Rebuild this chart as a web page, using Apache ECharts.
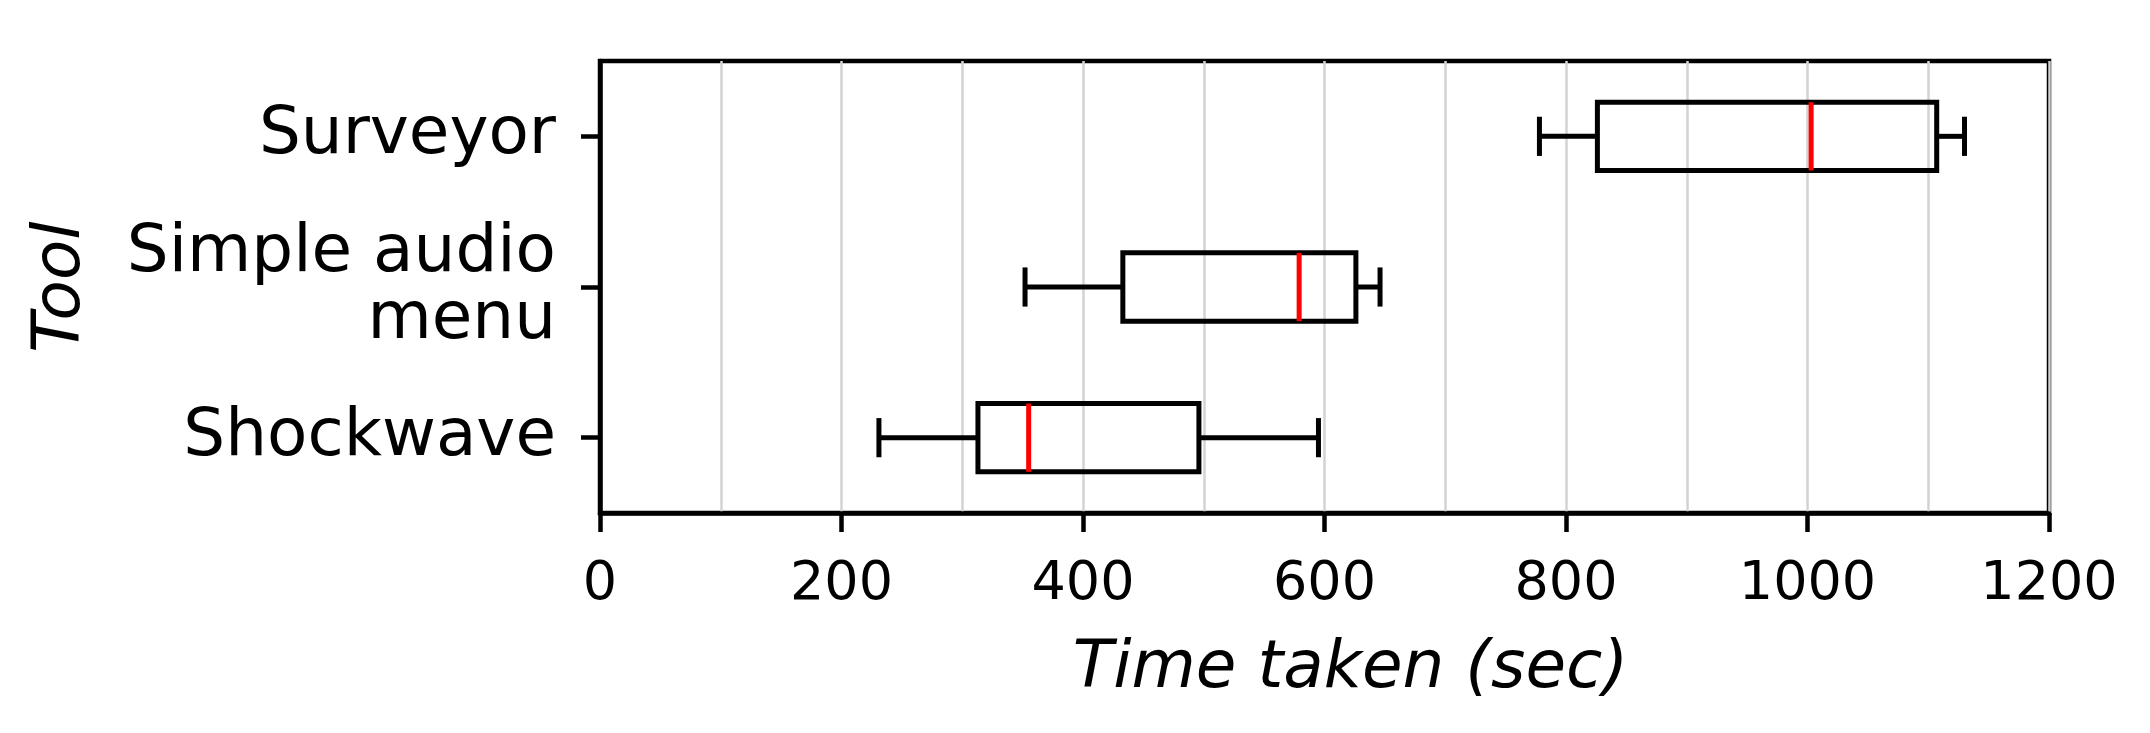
<!DOCTYPE html>
<html>
<head>
<meta charset="utf-8">
<title>Time taken per tool</title>
<script src="https://cdn.jsdelivr.net/npm/echarts@6/dist/echarts.min.js"></script>
<style>
  html, body { margin: 0; padding: 0; background: #fff; }
  #chart { width: 2150px; height: 733px; }
</style>
</head>
<body>
<div id="chart"></div>
<script>
// categories, bottom to top
const tools = ["Shockwave", "Simple audio\nmenu", "Surveyor"];
// box plot stats (sec)
const whiskerLow = [231, 352, 778];
const q1 = [313, 433, 826];
const median = [355, 579, 1003];
const q3 = [496, 626, 1107];
const whiskerHigh = [595, 646, 1130];
const xTicks = [0, 200, 400, 600, 800, 1000, 1200];

const font = "DejaVu Sans";
const rows = tools.map((t, i) => [i, whiskerLow[i], q1[i], median[i], q3[i], whiskerHigh[i]]);

function renderBox(params, api) {
  const cat = api.value(0);
  const band = api.size([0, 1])[1];
  const boxHalf = band * 0.2265;
  const capHalf = band * 0.13;
  const p = [1, 2, 3, 4, 5].map(d => api.coord([api.value(d), cat]));
  const y = p[0][1];
  const black = { stroke: "#000", lineWidth: 5, fill: null };
  return {
    type: "group",
    children: [
      { type: "line", shape: { x1: p[0][0], y1: y, x2: p[1][0], y2: y }, style: black },
      { type: "line", shape: { x1: p[3][0], y1: y, x2: p[4][0], y2: y }, style: black },
      { type: "line", shape: { x1: p[0][0], y1: y - capHalf, x2: p[0][0], y2: y + capHalf }, style: black },
      { type: "line", shape: { x1: p[4][0], y1: y - capHalf, x2: p[4][0], y2: y + capHalf }, style: black },
      { type: "rect", shape: { x: p[1][0], y: y - boxHalf, width: p[3][0] - p[1][0], height: boxHalf * 2 }, style: black },
      { type: "line", shape: { x1: p[2][0], y1: y - boxHalf, x2: p[2][0], y2: y + boxHalf },
        style: { stroke: "#ff0000", lineWidth: 5 } }
    ]
  };
}

const option = {
  animation: false,
  backgroundColor: "#fff",
  grid: {
    left: 600, right: 101, top: 61, bottom: 220,
    show: true, borderColor: "#000", borderWidth: 4.5, backgroundColor: "transparent"
  },
  xAxis: {
    type: "value",
    min: 0, max: 1200, interval: 200,
    name: "Time taken (sec)",
    nameLocation: "middle",
    nameGap: 124,
    nameTextStyle: { fontFamily: font, fontSize: 66, fontStyle: "italic", color: "#000", padding: [0, 0, 0, 52] },
    axisLine: { show: true, lineStyle: { color: "#000", width: 4.5 } },
    axisTick: { show: true, length: 19, lineStyle: { color: "#000", width: 4.5 } },
    axisLabel: {
      fontFamily: font, fontSize: 54, color: "#000", margin: 45,
      formatter: v => (xTicks.includes(v) ? String(v) : "")
    },
    splitLine: { show: true, lineStyle: { color: "#d3d3d3", width: 2.5 } },
    minorTick: { show: false, splitNumber: 2 },
    minorSplitLine: { show: true, lineStyle: { color: "#d3d3d3", width: 2.5 } }
  },
  yAxis: {
    type: "category",
    data: tools,
    name: "Tool",
    nameLocation: "middle",
    nameRotate: 90,
    nameGap: 505,
    nameTextStyle: { fontFamily: font, fontSize: 66, fontStyle: "italic", color: "#000" },
    axisLine: { show: true, lineStyle: { color: "#000", width: 4.5 } },
    axisTick: { show: true, alignWithLabel: true, length: 19, lineStyle: { color: "#000", width: 4.5 } },
    axisLabel: { fontFamily: font, fontSize: 66, color: "#000", margin: 44, lineHeight: 67, align: "right" },
    splitLine: { show: false }
  },
  series: [{
    type: "custom",
    renderItem: renderBox,
    encode: { x: [1, 2, 3, 4, 5], y: 0 },
    data: rows,
    z: 5
  }]
};

const chart = echarts.init(document.getElementById("chart"));
chart.setOption(option);
window.addEventListener("resize", () => chart.resize());
</script>
</body>
</html>
